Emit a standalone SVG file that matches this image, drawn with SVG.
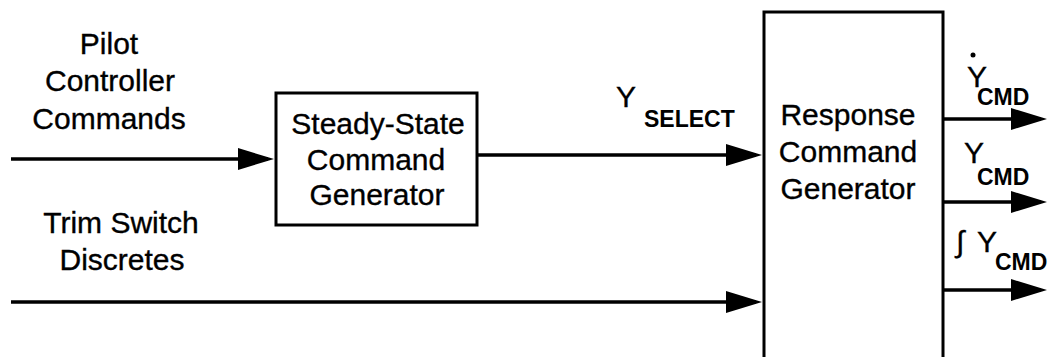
<svg xmlns="http://www.w3.org/2000/svg" width="1049" height="357" viewBox="0 0 1049 357">
<defs>
<style>
.box{fill:#fff;stroke:#000;stroke-width:3}
.t{font-family:"Liberation Sans",Arial,Helvetica,sans-serif;font-size:30px;fill:#000;stroke:#000;stroke-width:0.35}
.s{font-family:"Liberation Sans",Arial,Helvetica,sans-serif;font-size:23px;font-weight:bold;fill:#000}
.c{text-anchor:middle}
.ln{stroke:#000;stroke-width:3.5;fill:none}
</style>
<marker id="ah" markerUnits="userSpaceOnUse" markerWidth="40" markerHeight="24" refX="30" refY="11" orient="auto">
<path d="M0,0 L36,11 L0,22 Z" fill="#000"/>
</marker>
</defs>
<rect width="1049" height="357" fill="#fff"/>
<g id="labels">
<text class="t c" x="109" y="54">Pilot</text>
<text class="t c" x="110" y="91">Controller</text>
<text class="t c" x="109" y="129">Commands</text>
<text class="t c" x="121" y="233">Trim Switch</text>
<text class="t c" x="122" y="270">Discretes</text>
<text class="t" x="616" y="107">Y</text>
<text class="s" x="644" y="127">SELECT</text>
<circle cx="973" cy="55" r="2.5" fill="#000"/>
<text class="t" x="967" y="87">Y</text>
<text class="s" x="977" y="105">CMD</text>
<text class="t" x="964" y="163">Y</text>
<text class="s" x="977" y="185">CMD</text>
<text class="t" x="956" y="252">∫</text>
<text class="t" x="977" y="252">Y</text>
<text class="s" x="995" y="270">CMD</text>
</g>
<g id="steady-state">
<rect class="box" x="276" y="93" width="201" height="132"/>
<text class="t c" x="378" y="134">Steady-State</text>
<text class="t c" x="376" y="170">Command</text>
<text class="t c" x="377" y="205">Generator</text>
</g>
<g id="response">
<rect class="box" x="764" y="12" width="179" height="352"/>
<text class="t c" x="848" y="125">Response</text>
<text class="t c" x="848" y="162">Command</text>
<text class="t c" x="848" y="199">Generator</text>
</g>
<g id="connectors">
<line class="ln" x1="11" y1="159" x2="268" y2="159" marker-end="url(#ah)"/>
<line class="ln" x1="477" y1="155" x2="756" y2="155" marker-end="url(#ah)"/>
<line class="ln" x1="11" y1="302" x2="756" y2="302" marker-end="url(#ah)"/>
<line class="ln" x1="943" y1="119" x2="1041" y2="119" marker-end="url(#ah)"/>
<line class="ln" x1="943" y1="202" x2="1041" y2="202" marker-end="url(#ah)"/>
<line class="ln" x1="943" y1="290" x2="1041" y2="290" marker-end="url(#ah)"/>
</g>
</svg>
